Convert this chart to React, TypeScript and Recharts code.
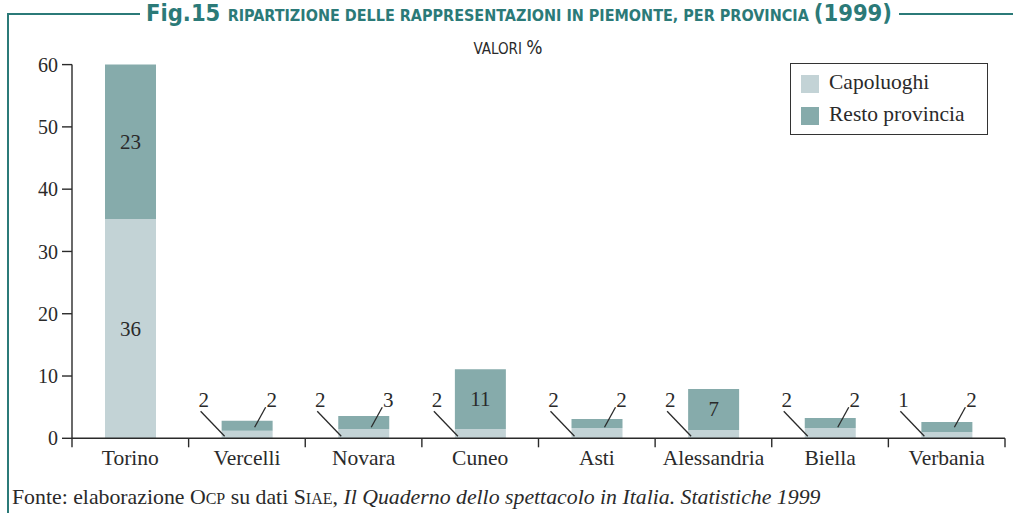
import { Bar, BarChart, LabelList, XAxis, YAxis } from 'recharts';

const provinces = ['Torino', 'Vercelli', 'Novara', 'Cuneo', 'Asti', 'Alessandria', 'Biella', 'Verbania'];
const capoluoghi = [35.2, 1.2, 1.5, 1.5, 1.65, 1.35, 1.65, 1.0];
const restoProvincia = [24.8, 1.6, 2.1, 9.6, 1.45, 6.55, 1.6, 1.6];
const capoLabels = ['36', '2', '2', '2', '2', '2', '2', '1'];
const restoLabels = ['23', '2', '3', '11', '2', '7', '2', '2'];
const yTicks = [0, 10, 20, 30, 40, 50, 60];

const LIGHT = '#c3d3d6';
const DARK = '#86abab';
const TEAL = '#2b7a78';
const INK = '#2a2a2a';
const SERIF = '"Liberation Serif", "DejaVu Serif", serif';
const COND = '"DejaVu Sans Condensed", "DejaVu Sans", sans-serif';

const data = provinces.map((p, i) => ({
  name: p,
  capo: capoluoghi[i],
  resto: restoProvincia[i],
  capoLabel: capoLabels[i],
  restoLabel: restoLabels[i],
}));

function box(props: any) {
  const vb = props.viewBox || props;
  const h = Number(vb.height);
  const y = h < 0 ? Number(vb.y) + h : Number(vb.y);
  return { x: Number(vb.x), y, w: Number(vb.width), h: Math.abs(h) };
}

function CapoLabel(props: any) {
  const { x, y, w, h } = box(props);
  const base = y + h;
  if (h > 25) {
    return (
      <text x={x + w / 2} y={y + h / 2 + 7} textAnchor="middle" fontFamily={SERIF} fontSize={21} fill={INK}>
        {props.value}
      </text>
    );
  }
  return (
    <g>
      <line x1={x - 21} y1={base - 27} x2={x + 3} y2={base - 2} stroke={INK} strokeWidth={1.3} />
      <text x={x - 18} y={base - 31} textAnchor="middle" fontFamily={SERIF} fontSize={21} fill={INK}>
        {props.value}
      </text>
    </g>
  );
}

function RestoLabel(props: any) {
  const { x, y, w, h } = box(props);
  if (h > 25) {
    return (
      <text x={x + w / 2} y={y + h / 2 + 7} textAnchor="middle" fontFamily={SERIF} fontSize={21} fill={INK}>
        {props.value}
      </text>
    );
  }
  const base = 438.3;
  return (
    <g>
      <line x1={x + 44} y1={base - 31} x2={x + 33} y2={base - 11} stroke={INK} strokeWidth={1.3} />
      <text x={x + 50} y={base - 31} textAnchor="middle" fontFamily={SERIF} fontSize={21} fill={INK}>
        {props.value}
      </text>
    </g>
  );
}

function CategoryTick(props: any) {
  const { x, y, payload, index } = props;
  const half = 933 / provinces.length / 2;
  return (
    <g>
      {index === 0 ? <line x1={x - half} y1={y} x2={x - half} y2={y + 9} stroke={INK} strokeWidth={1.4} /> : null}
      <line x1={x + half} y1={y} x2={x + half} y2={y + 9} stroke={INK} strokeWidth={1.4} />
      <text x={x} y={y + 27} textAnchor="middle" fontFamily={SERIF} fontSize={21.5} fill={INK}>
        {payload.value}
      </text>
    </g>
  );
}

export default function App() {
  return (
    <div style={{ position: 'absolute', left: 0, top: 0, width: 1013, height: 513, background: '#fff', overflow: 'hidden' }}>
      {/* frame */}
      <div style={{ position: 'absolute', left: 7, top: 13, width: 133, height: 2, background: TEAL }} />
      <div style={{ position: 'absolute', left: 899, top: 13, width: 114, height: 2, background: TEAL }} />
      <div style={{ position: 'absolute', left: 7, top: 13, width: 2, height: 500, background: TEAL }} />
      <div
        style={{
          position: 'absolute',
          left: 137,
          width: 764,
          top: 0,
          lineHeight: '26px',
          textAlign: 'center',
          fontFamily: COND,
          fontWeight: 'bold',
          color: TEAL,
          whiteSpace: 'nowrap',
        }}
      >
        <span style={{ fontSize: 23.5 }}>Fig.15 </span>
        <span style={{ fontSize: 16 }}>RIPARTIZIONE DELLE RAPPRESENTAZIONI IN PIEMONTE, PER PROVINCIA </span>
        <span style={{ fontSize: 23.5 }}>(1999)</span>
      </div>
      <div style={{ position: 'absolute', left: 408, width: 200, top: 36, textAlign: 'center', fontFamily: COND, fontSize: 15, color: INK }}>
        VALORI <span style={{ fontSize: 19 }}>%</span>
      </div>

      <div style={{ position: 'absolute', left: 0, top: 0 }}>
        <BarChart width={1013} height={513} data={data} margin={{ top: 64.6, right: 8, bottom: 44.7, left: 0 }} barSize={51}>
          <XAxis
            dataKey="name"
            height={30}
            tickLine={false}
            tickSize={0}
            tickMargin={0}
            axisLine={{ stroke: INK, strokeWidth: 1.4 }}
            tick={<CategoryTick />}
            interval={0}
          />
          <YAxis
            width={72}
            domain={[0, 60]}
            ticks={yTicks}
            tickSize={10}
            tickMargin={4}
            axisLine={{ stroke: INK, strokeWidth: 1.4 }}
            tickLine={{ stroke: INK, strokeWidth: 1.4 }}
            tick={{ fill: INK, fontSize: 20, fontFamily: SERIF }}
          />
          <Bar dataKey="capo" stackId="a" fill={LIGHT} isAnimationActive={false}>
            <LabelList dataKey="capoLabel" content={<CapoLabel />} />
          </Bar>
          <Bar dataKey="resto" stackId="a" fill={DARK} isAnimationActive={false}>
            <LabelList dataKey="restoLabel" content={<RestoLabel />} />
          </Bar>
        </BarChart>
      </div>

      {/* legend */}
      <div style={{ position: 'absolute', left: 790, top: 63, width: 198, height: 72, border: '1.5px solid #333', boxSizing: 'border-box' }}>
        <div style={{ position: 'absolute', left: 10, top: 11, width: 18, height: 18, background: LIGHT }} />
        <div style={{ position: 'absolute', left: 38, top: 6, fontFamily: SERIF, fontSize: 21.5, color: INK, whiteSpace: 'nowrap' }}>Capoluoghi</div>
        <div style={{ position: 'absolute', left: 10, top: 43, width: 18, height: 18, background: DARK }} />
        <div style={{ position: 'absolute', left: 38, top: 38, fontFamily: SERIF, fontSize: 21.5, color: INK, whiteSpace: 'nowrap' }}>Resto provincia</div>
      </div>

      {/* source */}
      <div style={{ position: 'absolute', left: 12, top: 485, fontFamily: SERIF, fontSize: 21.8, color: INK, whiteSpace: 'nowrap' }}>
        Fonte: elaborazione O<span style={{ fontSize: 16 }}>CP</span> su dati S<span style={{ fontSize: 16 }}>IAE</span>,{' '}
        <i>Il Quaderno dello spettacolo in Italia. Statistiche 1999</i>
      </div>
    </div>
  );
}
